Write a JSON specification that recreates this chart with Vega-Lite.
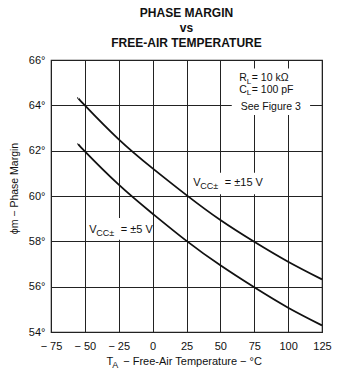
{
  "$schema": "https://vega.github.io/schema/vega-lite/v6.json",
  "width": 271,
  "height": 272,
  "autosize": {"type": "none"},
  "padding": {"left": 51, "top": 60, "right": 30, "bottom": 44},
  "background": "white",
  "config": {
    "font": "Liberation Sans",
    "view": {"stroke": "#222", "strokeWidth": 1.2},
    "axis": {
      "domain": false, "ticks": false, "tickSize": 0, "grid": true, "tickCount": 20,
      "gridColor": "#222", "gridWidth": 1, "gridOpacity": 1,
      "labelFont": "Liberation Sans", "labelFontSize": 11, "labelColor": "#111",
      "labelOverlap": false, "labelFlush": false,
      "titleFont": "Liberation Sans", "titleFontSize": 10.5, "titleFontWeight": "normal", "titleColor": "#111"
    },
    "text": {"font": "Liberation Sans", "color": "#111", "align": "left", "baseline": "alphabetic", "fontSize": 11}
  },
  "title": {
    "text": ["PHASE MARGIN", "vs", "FREE-AIR TEMPERATURE"],
    "font": "Liberation Sans", "fontSize": 12, "fontWeight": "bold", "lineHeight": 15,
    "offset": 4, "anchor": "middle", "color": "#111"
  },
  "datasets": {
    "curves": [
      {"temp": -55, "pm": 64.33, "vcc": "±15 V"},
      {"temp": -50, "pm": 64.0, "vcc": "±15 V"},
      {"temp": -25, "pm": 62.5, "vcc": "±15 V"},
      {"temp": 0, "pm": 61.22, "vcc": "±15 V"},
      {"temp": 25, "pm": 60.04, "vcc": "±15 V"},
      {"temp": 50, "pm": 58.94, "vcc": "±15 V"},
      {"temp": 75, "pm": 57.98, "vcc": "±15 V"},
      {"temp": 100, "pm": 57.1, "vcc": "±15 V"},
      {"temp": 125, "pm": 56.32, "vcc": "±15 V"},
      {"temp": -55, "pm": 62.31, "vcc": "±5 V"},
      {"temp": -50, "pm": 61.97, "vcc": "±5 V"},
      {"temp": -25, "pm": 60.5, "vcc": "±5 V"},
      {"temp": 0, "pm": 59.22, "vcc": "±5 V"},
      {"temp": 25, "pm": 58.02, "vcc": "±5 V"},
      {"temp": 50, "pm": 56.94, "vcc": "±5 V"},
      {"temp": 75, "pm": 55.97, "vcc": "±5 V"},
      {"temp": 100, "pm": 55.07, "vcc": "±5 V"},
      {"temp": 125, "pm": 54.29, "vcc": "±5 V"}
    ]
  },
  "layer": [
    {
      "data": {"name": "curves"},
      "mark": {"type": "line", "color": "#111", "strokeWidth": 1.8, "interpolate": "natural"},
      "encoding": {
        "x": {"field": "temp", "type": "quantitative",
          "scale": {"domain": [-75, 125], "nice": false, "zero": false},
          "axis": {"values": [-75, -50, -25, 0, 25, 50, 75, 100, 125], "tickCount": 20, "title": null, "labelPadding": 8,
            "labelExpr": "datum.value < 0 ? '− ' + abs(datum.value) : datum.label"}},
        "y": {"field": "pm", "type": "quantitative",
          "scale": {"domain": [54, 66], "nice": false, "zero": false},
          "axis": {"values": [54, 56, 58, 60, 62, 64, 66], "tickCount": 20, "title": "ϕm − Phase Margin", "labelPadding": 6,
            "titlePadding": 9, "titleY": 128, "labelExpr": "datum.value + '°'"}},
        "detail": {"field": "vcc"}
      }
    },
    {"data": {"values": [{}]}, "mark": {"type": "rect", "fill": "white"},
     "encoding": {"x": {"datum": 58.4}, "x2": {"datum": 116.2}, "y": {"datum": 65.63}, "y2": {"datum": 63.57}}},
    {"data": {"values": [{}]}, "mark": {"type": "rect", "fill": "white"},
     "encoding": {"x": {"datum": 27.6}, "x2": {"datum": 85.1}, "y": {"datum": 61.03}, "y2": {"datum": 60.08}}},
    {"data": {"values": [{}]}, "mark": {"type": "rect", "fill": "white"},
     "encoding": {"x": {"datum": -48.4}, "x2": {"datum": -1.5}, "y": {"datum": 59.03}, "y2": {"datum": 58.07}}},

    {"data": {"values": [{}]}, "mark": {"type": "text", "text": "R", "fontSize": 10.5},
     "encoding": {"x": {"datum": 64}, "y": {"datum": 65.06}}},
    {"data": {"values": [{}]}, "mark": {"type": "text", "text": "L", "fontSize": 8, "dx": 7.4, "dy": 2.2},
     "encoding": {"x": {"datum": 64}, "y": {"datum": 65.06}}},
    {"data": {"values": [{}]}, "mark": {"type": "text", "text": "= 10 kΩ", "fontSize": 10.5, "dx": 12.4},
     "encoding": {"x": {"datum": 64}, "y": {"datum": 65.06}}},

    {"data": {"values": [{}]}, "mark": {"type": "text", "text": "C", "fontSize": 10.5},
     "encoding": {"x": {"datum": 64}, "y": {"datum": 64.56}}},
    {"data": {"values": [{}]}, "mark": {"type": "text", "text": "L", "fontSize": 8, "dx": 7.4, "dy": 2.2},
     "encoding": {"x": {"datum": 64}, "y": {"datum": 64.56}}},
    {"data": {"values": [{}]}, "mark": {"type": "text", "text": "= 100 pF", "fontSize": 10.5, "dx": 12.4},
     "encoding": {"x": {"datum": 64}, "y": {"datum": 64.56}}},

    {"data": {"values": [{}]}, "mark": {"type": "text", "text": "See Figure 3", "fontSize": 10.5},
     "encoding": {"x": {"datum": 65}, "y": {"datum": 63.79}}},

    {"data": {"values": [{}]}, "mark": {"type": "text", "text": "V"},
     "encoding": {"x": {"datum": 30}, "y": {"datum": 60.44}}},
    {"data": {"values": [{}]}, "mark": {"type": "text", "text": "CC±", "fontSize": 9, "dx": 7, "dy": 2.5},
     "encoding": {"x": {"datum": 30}, "y": {"datum": 60.44}}},
    {"data": {"values": [{}]}, "mark": {"type": "text", "text": "= ±15 V", "dx": 31.5},
     "encoding": {"x": {"datum": 30}, "y": {"datum": 60.44}}},

    {"data": {"values": [{}]}, "mark": {"type": "text", "text": "V"},
     "encoding": {"x": {"datum": -46.7}, "y": {"datum": 58.35}}},
    {"data": {"values": [{}]}, "mark": {"type": "text", "text": "CC±", "fontSize": 9, "dx": 7, "dy": 2.5},
     "encoding": {"x": {"datum": -46.7}, "y": {"datum": 58.35}}},
    {"data": {"values": [{}]}, "mark": {"type": "text", "text": "= ±5 V", "dx": 31.5},
     "encoding": {"x": {"datum": -46.7}, "y": {"datum": 58.35}}},

    {"data": {"values": [{}]}, "mark": {"type": "text", "text": "T", "dy": 33.3},
     "encoding": {"x": {"datum": -34}, "y": {"datum": 54}}},
    {"data": {"values": [{}]}, "mark": {"type": "text", "text": "A", "fontSize": 9, "dx": 5.8, "dy": 36.3},
     "encoding": {"x": {"datum": -34}, "y": {"datum": 54}}},
    {"data": {"values": [{}]}, "mark": {"type": "text", "text": "− Free-Air Temperature − °C", "dx": 16.7, "dy": 33.3},
     "encoding": {"x": {"datum": -34}, "y": {"datum": 54}}}
  ]
}
